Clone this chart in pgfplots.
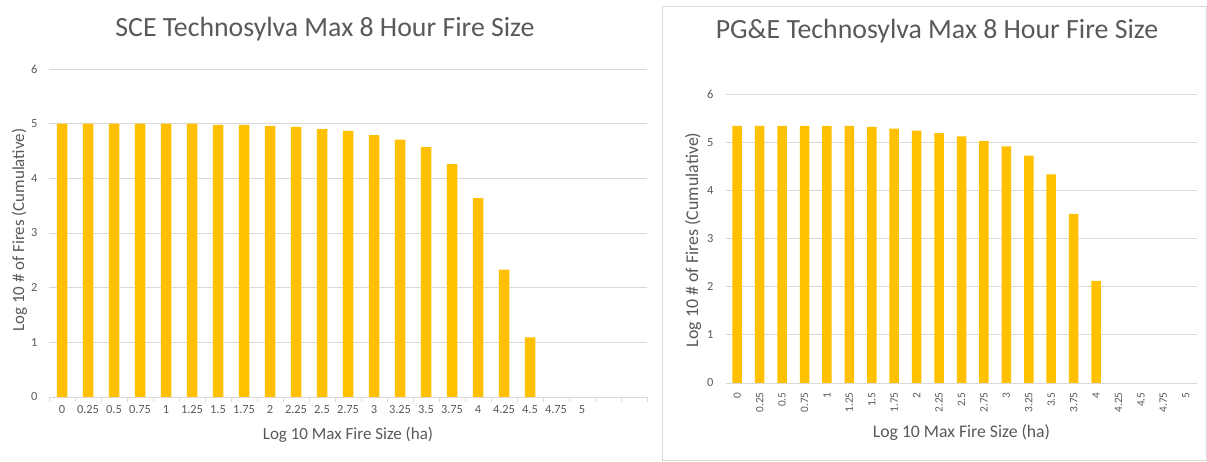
\documentclass[border=0pt]{standalone}
\usepackage{fontspec}
\setmainfont{Carlito}
\usepackage{pgfplots}
\usepackage{pgfplotstable}
\pgfplotsset{compat=1.18}
\definecolor{barc}{HTML}{FFC000}
\definecolor{gridc}{HTML}{D9D9D9}
\definecolor{txt}{HTML}{595959}
\pgfplotstableread{
x y
0 5.00
1 5.00
2 5.00
3 5.00
4 5.00
5 5.00
6 4.98
7 4.98
8 4.96
9 4.94
10 4.90
11 4.87
12 4.79
13 4.71
14 4.57
15 4.26
16 3.64
17 2.33
18 1.09
}\sce
\pgfplotstableread{
x y
0 5.34
1 5.34
2 5.34
3 5.34
4 5.34
5 5.34
6 5.32
7 5.28
8 5.24
9 5.19
10 5.12
11 5.02
12 4.91
13 4.72
14 4.33
15 3.51
16 2.12
}\pge
\pgfplotsset{
  excelbar/.style={
    scale only axis,
    ymin=0, ymax=6,
    ybar,
    axis x line*=bottom, axis y line*=left,
    y axis line style={draw=none},
    x axis line style={gridc, line width=0.8pt},
    ytick={0,...,6},
    ymajorgrids, grid style={gridc, line width=0.8pt},
    major tick length=0pt,
    tick align=outside,
    /pgf/number format/assume math mode=true,
    tick label style={text=txt},
    label style={text=txt},
    title style={text=txt},
  }
}
\begin{document}
\begin{tikzpicture}
\path[use as bounding box] (0,0) rectangle (1207pt,462pt);
\draw[gridc, line width=0.8pt] (662pt,2pt) rectangle (1206.5pt,456pt);
\begin{axis}[excelbar,
  at={(49pt,65pt)}, anchor=south west,
  width=598pt, height=328pt,
  xmin=-0.5, xmax=22.5,
  bar width=10.5pt,
  xtick={0,...,22},
  xticklabels={0,0.25,0.5,0.75,1,1.25,1.5,1.75,2,2.25,2.5,2.75,3,3.25,3.5,3.75,4,4.25,4.5,4.75,5,{},{}},
  minor xtick={-0.5,0.5,...,22.5}, minor tick length=5pt,
  minor tick style={gridc, line width=0.8pt},
  xticklabel style={font=\fontsize{12.4}{14}\selectfont, yshift=-5pt},
  yticklabel style={font=\fontsize{12.4}{14}\selectfont, xshift=-8pt},
  title={SCE Technosylva Max 8 Hour Fire Size},
  title style={font=\fontsize{27.8}{32}\selectfont, at={(axis description cs:0.4615,1)}, anchor=base, yshift=26pt},
  xlabel={Log 10 Max Fire Size (ha)},
  xlabel style={font=\fontsize{17}{20}\selectfont, at={(axis description cs:0.5,0)}, anchor=base, yshift=-43pt},
  ylabel={Log 10 \# of Fires (Cumulative)},
  ylabel style={font=\fontsize{16.9}{20}\selectfont, at={(axis description cs:-0.0418,0.509)}, anchor=base},
]
\addplot[fill=barc, draw=none] table[x=x,y=y] {\sce};
\end{axis}
\begin{axis}[excelbar,
  at={(726pt,79pt)}, anchor=south west,
  width=471pt, height=289pt,
  xmin=-0.5, xmax=20.5,
  bar width=9.5pt,
  xtick={0,...,20},
  xticklabels={0,0.25,0.5,0.75,1,1.25,1.5,1.75,2,2.25,2.5,2.75,3,3.25,3.5,3.75,4,4.25,4.5,4.75,5},
  xticklabel style={font=\fontsize{11.3}{13}\selectfont, rotate=90, anchor=east, yshift=0pt, xshift=-6pt},
  yticklabel style={font=\fontsize{12.4}{14}\selectfont, xshift=-9pt},
  title={PG\&E Technosylva Max 8 Hour Fire Size},
  title style={font=\fontsize{27.8}{32}\selectfont, at={(axis description cs:0.448,1)}, anchor=base, yshift=49pt},
  xlabel={Log 10 Max Fire Size (ha)},
  xlabel style={font=\fontsize{17.7}{20}\selectfont, at={(axis description cs:0.5,0)}, anchor=base, yshift=-55pt},
  ylabel={Log 10 \# of Fires (Cumulative)},
  ylabel style={font=\fontsize{17.9}{20}\selectfont, at={(axis description cs:-0.0594,0.495)}, anchor=base},
]
\addplot[fill=barc, draw=none] table[x=x,y=y] {\pge};
\end{axis}
\end{tikzpicture}
\end{document}
